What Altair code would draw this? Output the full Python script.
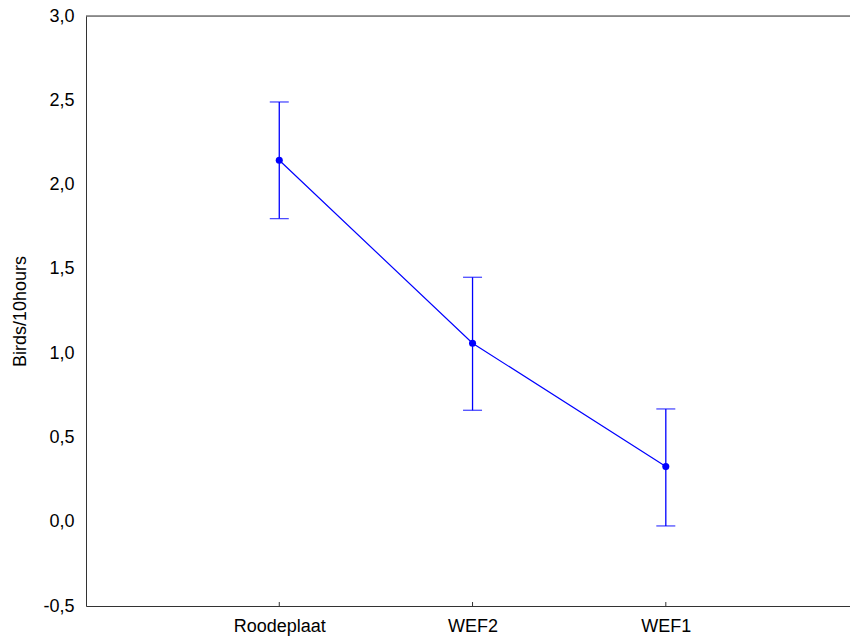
import altair as alt
import pandas as pd

categories = ["Roodeplaat", "WEF2", "WEF1"]
means = [2.144, 1.059, 0.327]
upper = [2.490, 1.450, 0.669]
lower = [1.798, 0.661, -0.025]

df = pd.DataFrame({
    "pos": [i + 1 for i in range(len(categories))],
    "site": categories,
    "mean": means,
    "upper": upper,
    "lower": lower,
})

W, H = 764, 590
BLUE = "#0000ff"
FONT = "Liberation Sans"

label_expr = "[''," + ",".join("'" + c + "'" for c in categories) + "][datum.value]"

xscale = alt.Scale(domain=[0, 3.953], nice=False, zero=False)
yscale = alt.Scale(domain=[-0.5, 3.0], nice=False, zero=False)

x_axis = alt.Axis(
    values=[1, 2, 3], labelExpr=label_expr, title=None, grid=False, ticks=False,
    domainColor="#333333", domainWidth=1, labelFont=FONT, labelFontSize=18,
    labelColor="#000000", labelPadding=11,
)
y_axis = alt.Axis(
    values=[-0.5, 0, 0.5, 1.0, 1.5, 2.0, 2.5, 3.0],
    labelExpr="replace(replace(format(datum.value, '.1f'), '.', ','), '\u2212', '-')",
    title="Birds/10hours", grid=False, ticks=False, domainColor="#333333",
    domainWidth=1, labelFont=FONT, labelFontSize=18, labelColor="#000000",
    labelPadding=12, titleFont=FONT, titleFontSize=18, titleFontWeight="normal",
    titleColor="#000000", titlePadding=13,
)

base = alt.Chart(df)

line = base.mark_line(color=BLUE, strokeWidth=1.2).encode(
    x=alt.X("pos:Q", scale=xscale, axis=x_axis),
    y=alt.Y("mean:Q", scale=yscale, axis=y_axis),
)
pts = base.mark_circle(color=BLUE, opacity=1, size=50).encode(
    x=alt.X("pos:Q", scale=xscale), y=alt.Y("mean:Q", scale=yscale)
)
bars = base.mark_rule(color=BLUE, strokeWidth=1.3).encode(
    x=alt.X("pos:Q", scale=xscale),
    y=alt.Y("lower:Q", scale=yscale),
    y2="upper:Q",
)
cap_hi = base.mark_tick(color=BLUE, orient="horizontal", size=19, thickness=1.3).encode(
    x=alt.X("pos:Q", scale=xscale), y=alt.Y("upper:Q", scale=yscale)
)
cap_lo = base.mark_tick(color=BLUE, orient="horizontal", size=19, thickness=1.3).encode(
    x=alt.X("pos:Q", scale=xscale), y=alt.Y("lower:Q", scale=yscale)
)
xticks = base.mark_rule(color="#333333", strokeWidth=1).encode(
    x=alt.X("pos:Q", scale=xscale),
    y=alt.value(H - 4),
    y2=alt.value(H),
)
top = alt.Chart(pd.DataFrame({"v": [3.0]})).mark_rule(color="#333333", strokeWidth=1).encode(
    y=alt.Y("v:Q", scale=yscale),
    x=alt.value(0),
    x2=alt.value(W),
)

chart = alt.layer(top, xticks, line, bars, cap_hi, cap_lo, pts).properties(
    width=W, height=H,
    padding={"left": 86, "top": 16, "right": 0, "bottom": 34},
    autosize="none",
).configure_view(stroke=None).configure(background="white")

chart.save("out.html", embed_options={"renderer": "svg", "actions": False})
